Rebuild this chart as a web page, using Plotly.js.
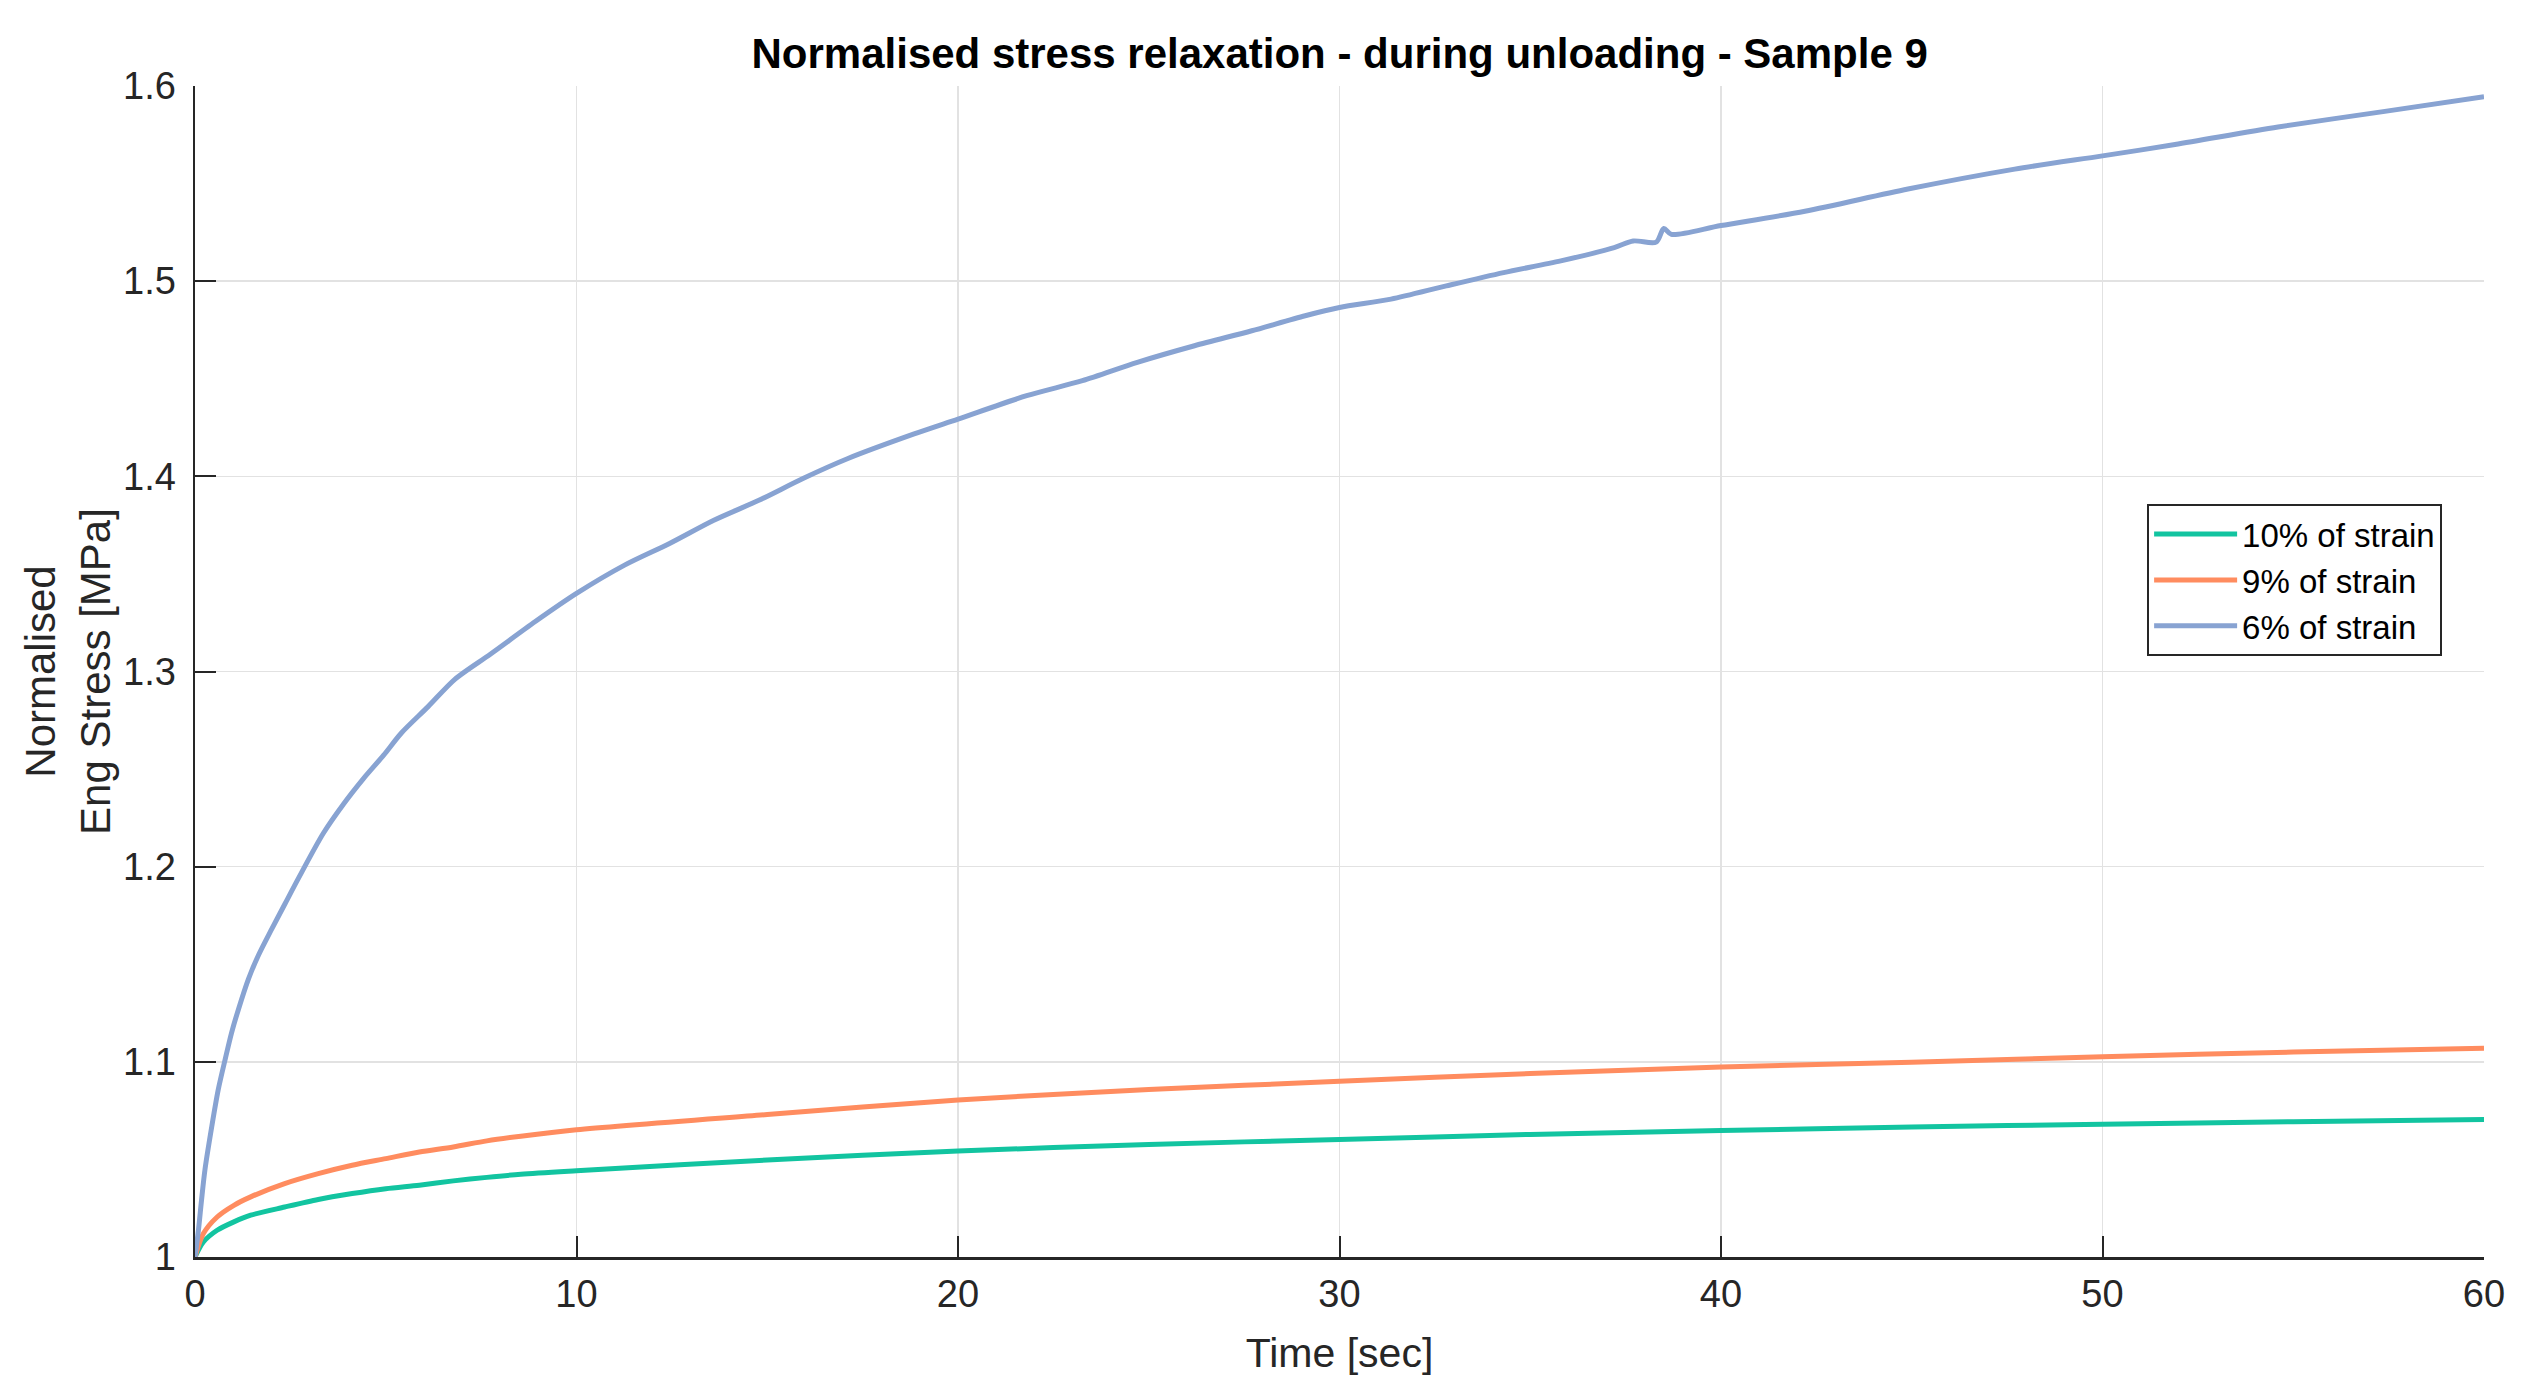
<!DOCTYPE html>
<html>
<head>
<meta charset="utf-8">
<script src="https://cdn.plot.ly/plotly-3.0.1.min.js"></script>
<style>
  html, body { margin: 0; padding: 0; background: white; }
  #relax { width: 2531px; height: 1397px; }
</style>
</head>
<body>
<div id="relax"></div>
<script>
// values (time in sec, normalised stress)
var time10 = [0, 0.22, 0.58, 1.02, 1.46, 2.35, 3.23, 4.12, 5.0, 5.88, 6.77, 7.65, 8.54, 10, 15, 20, 25, 30, 35, 40, 45, 50, 55, 60];
var stress10 = [1.0, 1.0077, 1.0137, 1.018, 1.0214, 1.0256, 1.0295, 1.0325, 1.035, 1.0368, 1.039, 1.0408, 1.0424, 1.0442, 1.0497, 1.0543, 1.0577, 1.0602, 1.0628, 1.0648, 1.0666, 1.068, 1.0693, 1.0705];

var time9 = [0, 0.22, 0.58, 1.02, 1.46, 2.35, 3.23, 4.12, 5.0, 5.88, 6.77, 7.65, 8.54, 10, 15, 20, 25, 30, 35, 40, 45, 50, 55, 60];
var stress9 = [1.0, 1.012, 1.0205, 1.0265, 1.0308, 1.0376, 1.0427, 1.047, 1.0504, 1.0538, 1.0564, 1.0595, 1.0619, 1.0652, 1.073, 1.0805, 1.0858, 1.090, 1.094, 1.0973, 1.0998, 1.1026, 1.105, 1.107];

var time6 = [0, 0.09, 0.17, 0.26, 0.44, 0.61, 0.79, 0.96, 1.14, 1.40, 1.66, 2.01, 2.36, 2.71, 3.36, 3.89, 4.41, 4.94, 5.41, 6.11, 6.81, 7.75, 8.92, 10,
  11.26, 12.44, 13.6, 14.78, 15.95, 17.1, 18.85, 20, 21.8, 23.26, 24.7, 26.2, 27.7, 29.1, 30, 31.35, 32.8, 34.3, 35.8, 37.2, 37.7,
  38.3, 38.5, 38.7, 40, 42.2, 44.9, 47.7, 50, 51.9, 54.6, 57.4, 60];
var stress6 = [1.0, 1.0137, 1.029, 1.0446, 1.0669, 1.0858, 1.1012, 1.115, 1.127, 1.1424, 1.1545, 1.168, 1.181, 1.194, 1.217, 1.232, 1.245, 1.257, 1.2685, 1.282, 1.296, 1.309, 1.3256, 1.340,
  1.3545, 1.3656, 1.3775, 1.3877, 1.399, 1.409, 1.4217, 1.4293, 1.4413, 1.449, 1.4584, 1.4669, 1.4746, 1.4823, 1.4865, 1.4908, 1.4976, 1.5044, 1.5104, 1.5172, 1.5206,
  1.5200, 1.527, 1.524, 1.5285, 1.5358, 1.5472, 1.5574, 1.5642, 1.570, 1.579, 1.587, 1.5945];

var seriesNames = ['10% of strain', '9% of strain', '6% of strain'];
var seriesColors = ['#12c4a0', '#ff8c5f', '#88a3d2'];

function makeTrace(x, y, i) {
  return {
    x: x,
    y: y,
    name: seriesNames[i],
    type: 'scatter',
    mode: 'lines',
    line: {
      color: seriesColors[i],
      width: 5,
      shape: 'spline',
      smoothing: 0.8
    }
  };
}

var data = [
  makeTrace(time10, stress10, 0),
  makeTrace(time9, stress9, 1),
  makeTrace(time6, stress6, 2)
];

var layout = {
  width: 2531,
  height: 1397,
  paper_bgcolor: 'white',
  plot_bgcolor: 'white',
  font: {
    family: 'Liberation Sans, Arial, sans-serif',
    color: '#262626',
    size: 38
  },
  margin: { l: 195, r: 47, t: 86, b: 140, pad: 0 },
  title: {
    text: '<b>Normalised stress relaxation - during unloading - Sample 9</b>',
    font: { size: 42, color: '#000000' },
    x: 0.5293,
    xanchor: 'center',
    y: 0.962,
    yanchor: 'middle'
  },
  xaxis: {
    range: [0, 60],
    tick0: 0,
    dtick: 10,
    ticks: 'inside',
    ticklen: 21,
    tickwidth: 2,
    tickcolor: '#262626',
    showline: true,
    linecolor: '#262626',
    linewidth: 2.5,
    showgrid: true,
    gridcolor: '#e2e2e2',
    gridwidth: 1.5,
    zeroline: false,
    ticklabelstandoff: 2,
    tickfont: { size: 38, color: '#262626' },
    title: { text: 'Time [sec]', font: { size: 41, color: '#262626' }, standoff: 24 }
  },
  yaxis: {
    range: [1, 1.6],
    tick0: 1,
    dtick: 0.1,
    ticks: 'inside',
    ticklen: 21,
    tickwidth: 2,
    tickcolor: '#262626',
    showline: true,
    linecolor: '#262626',
    linewidth: 2.5,
    showgrid: true,
    gridcolor: '#e2e2e2',
    gridwidth: 1.5,
    zeroline: false,
    ticklabelstandoff: 9,
    tickfont: { size: 38, color: '#262626' },
    title: { text: 'Normalised<br>Eng Stress [MPa]', font: { size: 42, color: '#262626' }, standoff: 0 }
  },
  legend: {
    x: 0.9817,
    xanchor: 'right',
    y: 0.643,
    yanchor: 'top',
    bgcolor: 'white',
    bordercolor: '#262626',
    borderwidth: 2,
    itemwidth: 83,
    font: { size: 33, color: '#000000' },
    tracegroupgap: 0
  },
  showlegend: true
};

Plotly.newPlot('relax', data, layout, { displayModeBar: false, staticPlot: true });
</script>
</body>
</html>
